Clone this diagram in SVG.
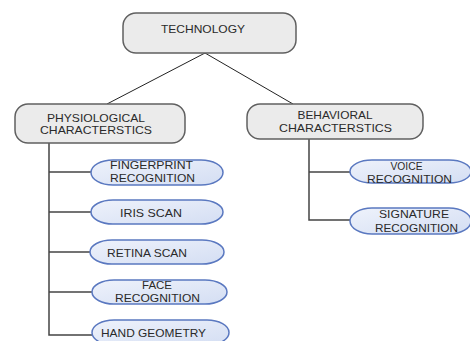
<svg xmlns="http://www.w3.org/2000/svg" width="470" height="341" viewBox="0 0 470 341">
<defs>
<linearGradient id="pillFill" x1="0" y1="0" x2="1" y2="1">
<stop offset="0" stop-color="#eef2fb"/>
<stop offset="1" stop-color="#d4def3"/>
</linearGradient>
<style>
.box{fill:#ebebeb;stroke:#606060;stroke-width:1.5}
.pill{fill:url(#pillFill);stroke:#5a78c0;stroke-width:1.5}
.t{font-family:"Liberation Sans",Arial,sans-serif;font-size:10.5px;fill:#2a2a2a;text-anchor:middle}
.c{stroke:#444;stroke-width:1.5;fill:none}
.d{stroke:#222;stroke-width:1;fill:none}
</style>
</defs>
<rect width="470" height="341" fill="#ffffff"/>
<g id="connectors">
<line class="d" x1="205" y1="53" x2="107" y2="104"/>
<line class="d" x1="205" y1="53" x2="293" y2="104"/>
<polyline class="c" points="49,143 49,335 92,335"/>
<line class="c" x1="49" y1="172" x2="91" y2="172"/>
<line class="c" x1="49" y1="212" x2="91" y2="212"/>
<line class="c" x1="49" y1="252" x2="90" y2="252"/>
<line class="c" x1="49" y1="292" x2="92" y2="292"/>
<polyline class="c" points="309,139 309,220 350,220"/>
<line class="c" x1="309" y1="172" x2="350" y2="172"/>
</g>
<g id="technology">
<rect class="box" x="123" y="13" width="173" height="40" rx="13"/>
<text class="t" x="203" y="33" textLength="84" lengthAdjust="spacingAndGlyphs">TECHNOLOGY</text>
</g>
<g id="physiological">
<rect class="box" x="15" y="104" width="170" height="39" rx="13"/>
<text class="t" x="96" y="122" textLength="98" lengthAdjust="spacingAndGlyphs">PHYSIOLOGICAL</text>
<text class="t" x="96" y="134" textLength="112" lengthAdjust="spacingAndGlyphs">CHARACTERSTICS</text>
</g>
<g id="behavioral">
<rect class="box" x="247" y="104" width="176" height="35" rx="13"/>
<text class="t" x="335" y="118.5" textLength="75" lengthAdjust="spacingAndGlyphs">BEHAVIORAL</text>
<text class="t" x="335.5" y="131.5" textLength="113" lengthAdjust="spacingAndGlyphs">CHARACTERSTICS</text>
</g>
<g id="fingerprint">
<rect class="pill" x="91" y="160" width="132" height="25" rx="22" ry="12.5"/>
<text class="t" x="151.5" y="169" textLength="83" lengthAdjust="spacingAndGlyphs">FINGERPRINT</text>
<text class="t" x="152.5" y="182" textLength="85" lengthAdjust="spacingAndGlyphs">RECOGNITION</text>
</g>
<g id="iris">
<rect class="pill" x="91" y="200" width="132" height="24" rx="22" ry="12"/>
<text class="t" x="151" y="216.5" textLength="62" lengthAdjust="spacingAndGlyphs">IRIS SCAN</text>
</g>
<g id="retina">
<rect class="pill" x="90" y="240" width="134" height="24" rx="22" ry="12"/>
<text class="t" x="147" y="256.5" textLength="80" lengthAdjust="spacingAndGlyphs">RETINA SCAN</text>
</g>
<g id="face">
<rect class="pill" x="92" y="280" width="135" height="24" rx="22" ry="12"/>
<text class="t" x="157" y="289" textLength="30" lengthAdjust="spacingAndGlyphs">FACE</text>
<text class="t" x="157.5" y="302" textLength="85" lengthAdjust="spacingAndGlyphs">RECOGNITION</text>
</g>
<g id="hand">
<rect class="pill" x="92" y="320" width="137" height="25" rx="22" ry="12.5"/>
<text class="t" x="153.5" y="336.5" textLength="105" lengthAdjust="spacingAndGlyphs">HAND GEOMETRY</text>
</g>
<g id="voice">
<rect class="pill" x="350" y="160" width="121" height="23" rx="22" ry="11.5"/>
<text class="t" x="406.5" y="170" textLength="32" lengthAdjust="spacingAndGlyphs">VOICE</text>
<text class="t" x="409.5" y="183" textLength="85" lengthAdjust="spacingAndGlyphs">RECOGNITION</text>
</g>
<g id="signature">
<rect class="pill" x="350" y="208" width="121" height="26" rx="22" ry="13"/>
<text class="t" x="414" y="217.5" textLength="70" lengthAdjust="spacingAndGlyphs">SIGNATURE</text>
<text class="t" x="416.5" y="231.5" textLength="83" lengthAdjust="spacingAndGlyphs">RECOGNITION</text>
</g>
</svg>
